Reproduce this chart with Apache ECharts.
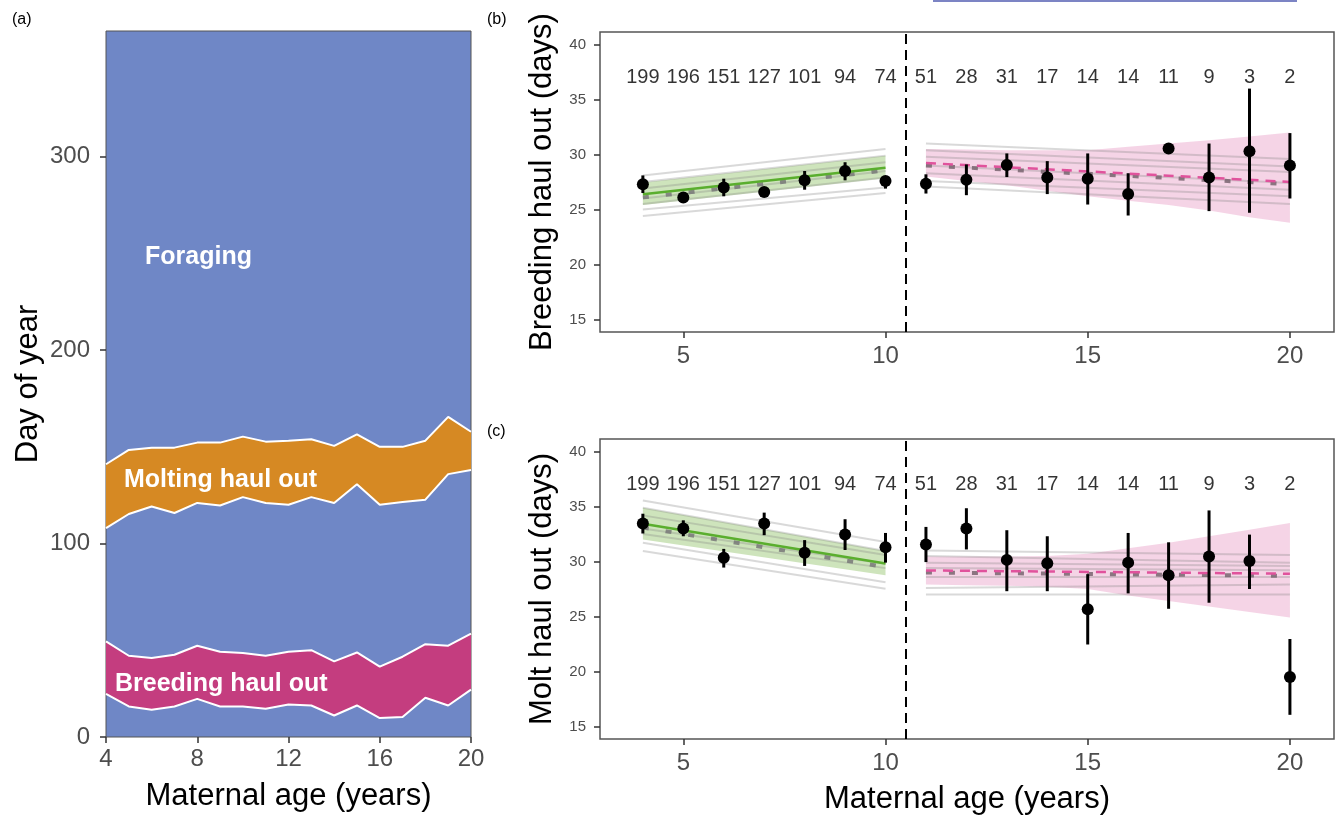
<!DOCTYPE html>
<html>
<head>
<meta charset="utf-8">
<script src="https://cdn.jsdelivr.net/npm/echarts@6/dist/echarts.min.js"></script>
<style>
  html, body { margin: 0; padding: 0; background: #fff; }
  #main { width: 1337px; height: 817px; }
</style>
</head>
<body>
<div id="main"></div>
<script>
// (a) 各阶段的日期边界（按母亲年龄）
const ages = [4, 5, 6, 7, 8, 9, 10, 11, 12, 13, 14, 15, 16, 17, 18, 19, 20];
const breedStart = [22.3, 15.8, 14.1, 15.8, 19.7, 15.8, 15.8, 14.6, 16.8, 16.3, 11.1, 16.3, 9.8, 10.3, 20.3, 16.3, 24.5];
const breedEnd = [49.4, 42.0, 40.8, 42.5, 47.2, 44.1, 43.4, 42.0, 44.1, 44.9, 39.1, 43.7, 36.4, 41.5, 48.0, 47.2, 53.5];
const moltStart = [108, 115.3, 119.2, 115.8, 121, 119.7, 124, 121, 120.1, 124, 121, 130.7, 120.1, 121.5, 122.7, 135.9, 138];
const moltEnd = [141, 148.4, 149.6, 149.6, 152.2, 152.2, 155.3, 152.7, 153.2, 153.9, 150.5, 156.5, 150, 150, 153.2, 165.5, 157.8];

// 样本量
const counts = [199, 196, 151, 127, 101, 94, 74, 51, 28, 31, 17, 14, 14, 11, 9, 3, 2];

// (b) 繁殖上岸天数：均值和误差
const breedMean = [27.3, 26.1, 27.0, 26.6, 27.65, 28.5, 27.6, 27.35, 27.7, 29.05, 27.9, 27.8, 26.4, 30.55, 27.9, 30.3, 29.0];
const breedLo = [26.5, 25.9, 26.2, 26.4, 26.8, 27.65, 26.9, 26.45, 26.3, 27.95, 26.4, 25.45, 24.45, 30.3, 24.85, 24.7, 26.0];
const breedHi = [28.1, 26.3, 27.8, 26.8, 28.5, 29.3, 27.95, 28.2, 29.1, 30.1, 29.4, 30.1, 28.3, 30.8, 31.0, 36.0, 31.95];

// (c) 换毛上岸天数
const moltMean = [33.45, 33.0, 30.35, 33.45, 30.8, 32.45, 31.3, 31.55, 33.0, 30.15, 29.85, 25.65, 29.9, 28.75, 30.45, 30.05, 19.5];
const moltLo = [32.55, 32.3, 29.45, 32.4, 29.6, 31.05, 29.9, 29.95, 31.1, 27.3, 27.3, 22.45, 27.1, 25.7, 26.25, 27.5, 16.05];
const moltHi = [34.35, 33.75, 31.15, 34.45, 31.95, 33.85, 32.6, 33.15, 34.85, 32.85, 32.3, 28.85, 32.6, 31.75, 34.65, 32.45, 22.95];

// 模型拟合
const youngAges = [4, 10];
const oldAges = [11, 12, 13, 14, 15, 16, 17, 18, 19, 20];
const oldEnds = [11, 20];

const breedFitYoung = [26.38, 28.8];
const breedRefYoung = [26.1, 28.55];
const breedBandYoungLo = [25.4, 27.85];
const breedBandYoungHi = [27.45, 29.9];
const breedFitOld = [29.23, 27.5];
const breedRefOld = [29.0, 27.3];
const breedBandOldHi = [30.5, 30.45, 30.4, 30.4, 30.4, 30.7, 31.0, 31.3, 31.65, 32.0];
const breedBandOldLo = [28.0, 27.6, 27.2, 26.7, 26.2, 25.8, 25.4, 24.9, 24.3, 23.8];
const breedGrayYoung = [[28.1, 30.5], [27.5, 29.9], [26.9, 29.3], [26.0, 28.5], [25.5, 27.9], [25.0, 27.0], [24.4, 26.5]];
const breedGrayOld = [[31.0, 29.6], [30.4, 28.9], [29.8, 28.4], [29.0, 27.4], [28.3, 26.8], [27.6, 26.2], [27.1, 25.5]];

const moltFitYoung = [33.44, 29.83];
const moltRefYoung = [33.1, 29.5];
const moltBandYoungLo = [32.0, 28.76];
const moltBandYoungHi = [34.9, 30.95];
const moltFitOld = [29.19, 28.89];
const moltRefOld = [29.0, 28.7];
const moltBandOldHi = [30.45, 30.45, 30.45, 30.5, 30.7, 31.2, 31.7, 32.3, 32.9, 33.5];
const moltBandOldLo = [27.9, 27.85, 27.8, 27.7, 27.5, 26.9, 26.4, 25.9, 25.4, 24.9];
const moltGrayYoung = [[35.56, 31.77], [34.9, 30.95], [34.2, 30.6], [33.0, 29.8], [32.5, 29.4], [31.7, 28.12], [30.95, 27.52]];
const moltGrayOld = [[31.0, 30.6], [30.5, 29.9], [29.9, 29.6], [29.4, 29.2], [28.6, 28.6], [27.6, 27.9], [27.0, 27.0]];

const FONT = 'Liberation Sans, Arial, sans-serif';

function pairs(xs, ys) {
    return xs.map((x, i) => [x, ys[i]]);
}

// 置信带多边形
function band(xs, lo, hi, color, gi, z) {
    return {
        type: 'custom', xAxisIndex: gi, yAxisIndex: gi, silent: true, z: z || 1,
        data: [[xs[0], lo[0]]],
        renderItem: function (params, api) {
            let pts = [];
            xs.forEach((x, i) => pts.push(api.coord([x, hi[i]])));
            for (let i = xs.length - 1; i >= 0; i--) pts.push(api.coord([xs[i], lo[i]]));
            return { type: 'polygon', shape: { points: pts }, style: { fill: color } };
        }
    };
}

function line(data, gi, style, z) {
    return {
        type: 'line', xAxisIndex: gi, yAxisIndex: gi, data: data, symbol: 'none',
        silent: true, z: z, lineStyle: style, animation: false
    };
}

function errorBars(lo, hi, gi) {
    return {
        type: 'custom', xAxisIndex: gi, yAxisIndex: gi, silent: true, z: 5,
        data: ages.map((a, i) => [a, lo[i], hi[i]]),
        encode: { x: 0, y: [1, 2] },
        renderItem: function (params, api) {
            const p1 = api.coord([api.value(0), api.value(1)]);
            const p2 = api.coord([api.value(0), api.value(2)]);
            return {
                type: 'line',
                shape: { x1: p1[0], y1: p1[1], x2: p2[0], y2: p2[1] },
                style: { stroke: '#000', lineWidth: 3 }
            };
        }
    };
}

function points(mean, gi) {
    return {
        type: 'scatter', xAxisIndex: gi, yAxisIndex: gi, silent: true, z: 6,
        data: pairs(ages, mean), symbolSize: 12, itemStyle: { color: '#000', opacity: 1 },
        markLine: {
            silent: true, symbol: ['none', 'none'], label: { show: false },
            lineStyle: { type: [10, 6], color: '#000', width: 2 },
            data: [{ xAxis: 10.5 }]
        }
    };
}

function countLabels(gi) {
    return {
        type: 'scatter', xAxisIndex: gi, yAxisIndex: gi, silent: true, z: 6,
        data: ages.map((a, i) => [a, 37, counts[i]]),
        symbolSize: 1, itemStyle: { color: 'rgba(0,0,0,0)' },
        label: {
            show: true, position: 'inside', formatter: p => p.value[2],
            fontSize: 20, color: '#000', fontFamily: FONT
        }
    };
}

function fitPanel(gi, d) {
    let s = [];
    s.push(band(youngAges, d.bandYoungLo, d.bandYoungHi, 'rgba(120,180,70,0.36)', gi, 1));
    s.push(band(oldAges, d.bandOldLo, d.bandOldHi, 'rgba(232,160,200,0.45)', gi, 1));
    d.grayYoung.forEach(g => s.push(line(pairs(youngAges, g), gi, { color: 'rgba(130,130,130,0.3)', width: 2 }, 2)));
    d.grayOld.forEach(g => s.push(line(pairs(oldEnds, g), gi, { color: 'rgba(130,130,130,0.3)', width: 2 }, 2)));
    s.push(line(pairs(youngAges, d.refYoung), gi, { color: 'rgba(120,120,120,0.85)', width: 4, type: [6, 17] }, 3));
    s.push(line(pairs(oldEnds, d.refOld), gi, { color: 'rgba(120,100,110,0.85)', width: 4, type: [6, 17] }, 3));
    s.push(line(pairs(youngAges, d.fitYoung), gi, { color: '#5aae2e', width: 2.5 }, 4));
    s.push(line(pairs(oldEnds, d.fitOld), gi, { color: '#e0529c', width: 2.5, type: [10, 7] }, 4));
    s.push(errorBars(d.lo, d.hi, gi));
    s.push(points(d.mean, gi));
    s.push(countLabels(gi));
    return s;
}

const labelGray = '#4d4d4d';

function fitXAxis(gi, withName) {
    return {
        type: 'value', gridIndex: gi, min: 2.94, max: 21.09,
        axisLine: { show: false }, splitLine: { show: false },
        axisTick: { show: true, length: 6, lineStyle: { color: '#333', width: 1.5 }, customValues: [5, 10, 15, 20] },
        axisLabel: { fontSize: 24, color: labelGray, fontFamily: FONT, margin: 12, customValues: [5, 10, 15, 20] },
        name: withName ? 'Maternal age (years)' : '', nameLocation: 'middle', nameGap: 45,
        nameTextStyle: { fontSize: 31, color: '#000', fontFamily: FONT }
    };
}

function fitYAxis(gi, name) {
    return {
        type: 'value', gridIndex: gi, min: 13.85, max: 41.15,
        axisLine: { show: false }, splitLine: { show: false },
        axisTick: { show: true, length: 6, lineStyle: { color: '#333', width: 1.5 }, customValues: [15, 20, 25, 30, 35, 40] },
        axisLabel: { fontSize: 15, color: labelGray, fontFamily: FONT, margin: 14, customValues: [15, 20, 25, 30, 35, 40] },
        name: name, nameLocation: 'middle', nameGap: 42, nameRotate: 90,
        nameTextStyle: { fontSize: 31, color: '#000', fontFamily: FONT }
    };
}

let series = [];

// (a) 年周期
series.push(band(ages, breedStart, breedEnd, '#c43d7f', 0, 1));
series.push(band(ages, moltStart, moltEnd, '#d68923', 0, 1));
[breedStart, breedEnd, moltStart, moltEnd].forEach(arr => {
    series.push(line(pairs(ages, arr), 0, { color: '#fff', width: 2 }, 3));
});

series = series.concat(fitPanel(1, {
    mean: breedMean, lo: breedLo, hi: breedHi,
    fitYoung: breedFitYoung, refYoung: breedRefYoung, bandYoungLo: breedBandYoungLo, bandYoungHi: breedBandYoungHi,
    fitOld: breedFitOld, refOld: breedRefOld, bandOldLo: breedBandOldLo, bandOldHi: breedBandOldHi,
    grayYoung: breedGrayYoung, grayOld: breedGrayOld
}));
series = series.concat(fitPanel(2, {
    mean: moltMean, lo: moltLo, hi: moltHi,
    fitYoung: moltFitYoung, refYoung: moltRefYoung, bandYoungLo: moltBandYoungLo, bandYoungHi: moltBandYoungHi,
    fitOld: moltFitOld, refOld: moltRefOld, bandOldLo: moltBandOldLo, bandOldHi: moltBandOldHi,
    grayYoung: moltGrayYoung, grayOld: moltGrayOld
}));

const myChart = echarts.init(document.getElementById('main'));

const option = {
    animation: false,
    backgroundColor: '#fff',
    grid: [
        { left: 106, top: 31, width: 365, height: 709, show: true, backgroundColor: '#6f87c6', borderColor: '#555', borderWidth: 1 },
        { left: 600, top: 32, width: 734, height: 300, show: true, backgroundColor: '#fff', borderColor: '#555', borderWidth: 1.5 },
        { left: 600, top: 439, width: 734, height: 300, show: true, backgroundColor: '#fff', borderColor: '#555', borderWidth: 1.5 }
    ],
    xAxis: [
        {
            type: 'value', gridIndex: 0, min: 4, max: 20,
            axisLine: { show: false }, splitLine: { show: false },
            axisTick: { show: true, length: 6, lineStyle: { color: '#333', width: 1.5 }, customValues: [4, 8, 12, 16, 20] },
            axisLabel: { fontSize: 24, color: labelGray, fontFamily: FONT, margin: 10, customValues: [4, 8, 12, 16, 20] },
            name: 'Maternal age (years)', nameLocation: 'middle', nameGap: 44,
            nameTextStyle: { fontSize: 31, color: '#000', fontFamily: FONT }
        },
        fitXAxis(1, false),
        fitXAxis(2, true)
    ],
    yAxis: [
        {
            type: 'value', gridIndex: 0, min: 0, max: 365,
            axisLine: { show: false }, splitLine: { show: false },
            axisTick: { show: true, length: 6, lineStyle: { color: '#333', width: 1.5 }, customValues: [0, 100, 200, 300] },
            axisLabel: { fontSize: 24, color: labelGray, fontFamily: FONT, margin: 16, customValues: [0, 100, 200, 300] },
            name: 'Day of year', nameLocation: 'middle', nameGap: 62, nameRotate: 90,
            nameTextStyle: { fontSize: 31, color: '#000', fontFamily: FONT }
        },
        fitYAxis(1, 'Breeding haul out (days)'),
        fitYAxis(2, 'Molt haul out (days)')
    ],
    graphic: [
        { type: 'text', x: 12, y: 20, style: { text: '(a)', font: '16px ' + FONT, fill: '#000', verticalAlign: 'middle' } },
        { type: 'text', x: 487, y: 20, style: { text: '(b)', font: '16px ' + FONT, fill: '#000', verticalAlign: 'middle' } },
        { type: 'text', x: 487, y: 432, style: { text: '(c)', font: '16px ' + FONT, fill: '#000', verticalAlign: 'middle' } },
        { type: 'text', x: 145, y: 257, z: 10, style: { text: 'Foraging', font: 'bold 25px ' + FONT, fill: '#fff', verticalAlign: 'middle' } },
        { type: 'text', x: 124, y: 480, z: 10, style: { text: 'Molting haul out', font: 'bold 25px ' + FONT, fill: '#fff', verticalAlign: 'middle' } },
        { type: 'text', x: 115, y: 684, z: 10, style: { text: 'Breeding haul out', font: 'bold 25px ' + FONT, fill: '#fff', verticalAlign: 'middle' } },
        { type: 'line', shape: { x1: 933, y1: 1, x2: 1297, y2: 1 }, style: { stroke: '#7c84c4', lineWidth: 2 } }
    ],
    series: series
};

option && myChart.setOption(option, true);
</script>
</body>
</html>
